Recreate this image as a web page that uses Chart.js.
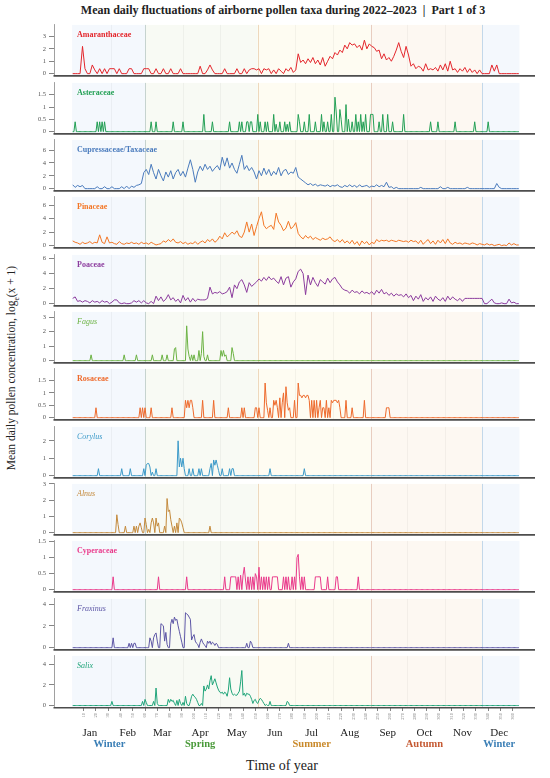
<!DOCTYPE html>
<html>
<head>
<meta charset="utf-8">
<script src="https://cdn.jsdelivr.net/npm/chart.js@4.4.1/dist/chart.umd.min.js"></script>
<style>
  body { margin: 0; background: #fff; }
  #wrap { position: relative; width: 550px; height: 778px; overflow: hidden; font-family: "Liberation Serif", serif; color: #222; }
  #title { position: absolute; top: 3px; left: 0; width: 566px; text-align: center; font-weight: bold; font-size: 12px; white-space: nowrap; }
  #ytitle { position: absolute; left: 13px; top: 368px; transform: translate(-50%, -50%) rotate(-90deg); font-size: 11.5px; white-space: nowrap; }
  #ytitle sub { font-size: 7.5px; }
  #xtitle { position: absolute; left: 282px; top: 766px; transform: translate(-50%, -50%); font-size: 14px; white-space: nowrap; }
</style>
</head>
<body>
<div id="wrap">
  <div id="title">Mean daily fluctuations of airborne pollen taxa during 2022–2023 &nbsp;|&nbsp; Part 1 of 3</div>
  <div id="ytitle">Mean daily pollen concentration, log<sub>e</sub>(x + 1)</div>
  <div id="xtitle">Time of year</div>
</div>
<script>
// ---- data (day of year 1..365) ----
const taxa = ['Amaranthaceae', 'Asteraceae', 'Cupressaceae/Taxaceae', 'Pinaceae', 'Poaceae', 'Fagus',
              'Rosaceae', 'Corylus', 'Alnus', 'Cyperaceae', 'Fraxinus', 'Salix'];
const isGenus = [false, false, false, false, false, true, false, true, true, false, true, true];
const yMax = [3.93, 1.98, 7.6, 7.2, 6.5, 3.36, 1.97, 2.8, 3.0, 1.52, 4.47, 4.82];
const yTicks = [[0, 1, 2, 3], [0, 0.5, 1, 1.5], [0, 2, 4, 6], [0, 2, 4, 6], [0, 2, 4, 6], [0, 1, 2, 3],
                [0, 0.5, 1, 1.5], [0, 1, 2], [0, 1, 2, 3], [0, 0.5, 1, 1.5], [0, 2, 4], [0, 2, 4]];

const dayTicks = [10, 20, 30, 40, 50, 60, 70, 80, 90, 100, 110, 120, 130, 140, 150, 160, 170, 180,
                  190, 200, 210, 220, 230, 240, 250, 260, 270, 280, 290, 300, 310, 320, 330, 340, 350, 360];
const monthNames = ['Jan', 'Feb', 'Mar', 'Apr', 'May', 'Jun', 'Jul', 'Aug', 'Sep', 'Oct', 'Nov', 'Dec'];
const monthStarts = [1, 32, 60, 91, 121, 152, 182, 213, 244, 274, 305, 335];
const monthMid = [15, 46, 74, 105, 135, 166, 196, 227, 258, 288, 319, 349];
const seasonNames = ['Winter', 'Spring', 'Summer', 'Autumn', 'Winter'];
const seasonBounds = [0.5, 60, 152, 244, 335, 365.5];
const seasonMid = [31, 105, 196, 288, 349];

// dense series: one value every second day (days 1, 3, 5, ... 365)
const amaranthaceae = [
  0, 0, 0, 0, 2.2, 0.4, 0, 0, 0.7, 0.3,             // 1-19
  0, 0.4, 0, 0.4, 0, 0.4, 0.4, 0.4, 0, 0.4,         // 21-39
  0, 0, 0, 0.4, 0.4, 0, 0, 0, 0, 0.4,               // 41-59
  0.4, 0.4, 0, 0, 0.4, 0, 0, 0.4, 0, 0,             // 61-79
  0.4, 0, 0, 0, 0.4, 0, 0, 0, 0, 0,                 // 81-99
  0, 0, 0.6, 0, 0, 0.3, 0.7, 0.3, 0, 0,             // 101-119
  0, 0, 0.4, 0, 0, 0, 0, 0.4, 0, 0,                 // 121-139
  0.4, 0, 0.3, 0.4, 0.4, 0.3, 0.4, 0, 0.4, 0.3,     // 141-159
  0.4, 0, 0.3, 0, 0.4, 0.2, 0, 0.4, 0.2, 0.5,       // 161-179
  0.1, 0.3, 1.6, 0.9, 1.1, 0.8, 1.2, 0.9, 1.3, 0.8, // 181-199
  1.1, 0.7, 1.3, 0.6, 1.0, 1.4, 1.2, 1.7, 1.5, 1.9, // 201-219
  1.7, 2.3, 2.0, 2.5, 2.3, 2.4, 2.1, 2.3, 1.9, 2.7, // 221-239
  2.0, 2.4, 2.2, 2.1, 1.8, 1.9, 1.2, 1.6, 1.1, 1.3, // 241-259
  1.0, 1.4, 1.9, 2.5, 1.8, 1.3, 2.2, 1.5, 0.6, 0.8, // 261-279
  0.4, 0.6, 0.5, 0.2, 0.8, 0.3, 0.4, 0.3, 0.5, 0.2, // 281-299
  0.7, 0.3, 0.8, 0.2, 1.0, 0.3, 0.4, 0.1, 0.4, 0.2, // 301-319
  0.5, 0.1, 0.4, 0.1, 0.3, 0, 0.3, 0, 0, 0,         // 321-339
  0, 0.7, 0.2, 0.7, 0, 0, 0, 0, 0, 0,               // 341-359
  0, 0, 0                                           // 361-365
];
const cupressaceae = [
  0.6, 0.2, 0.5, 0.3, 0.5, 0, 0, 0, 0, 0,
  0.3, 0, 0, 0.3, 0, 0, 0.3, 0, 0, 0,
  0.3, 0, 0.4, 0, 0.4, 0.2, 0.5, 0.6, 0.8, 2.5,
  3.0, 2.2, 3.8, 2.5, 1.5, 3.0, 2.0, 1.2, 2.6, 1.8,
  2.8, 1.5, 2.5, 3.0, 2.0, 2.7, 1.8, 3.2, 4.5, 3.0,
  1.0, 2.6, 3.5, 2.8, 3.8, 3.0, 3.5, 2.7, 3.2, 3.6,
  2.9, 4.9, 3.5, 4.8, 3.2, 4.0, 3.0, 2.4, 3.8, 5.2,
  3.0, 3.6, 2.8, 3.3, 2.6, 1.5, 2.8, 2.0, 3.2, 2.2,
  3.0, 2.0, 2.7, 2.2, 3.3, 2.0, 2.8, 3.0, 2.2, 2.6,
  2.4, 3.3, 1.8, 1.5, 1.2, 0.9, 0.6, 0.8, 0.5, 0.7,
  0.4, 0.6, 0.5, 0.4, 0.6, 0.3, 0.5, 0.4, 0.6, 0.3,
  0.2, 0.5, 0.3, 0.6, 0.3, 0.5, 0.2, 0.6, 0.3, 0.4,
  0.5, 0.2, 0.4, 0.3, 0.6, 0.3, 0.5, 0.3, 1.0, 0.2,
  0.3, 0, 0.2, 0, 0, 0, 0, 0, 0, 0,
  0, 0, 0.2, 0, 0, 0, 0, 0, 0, 0,
  0.3, 0, 0, 0.2, 0, 0, 0, 0, 0, 0,
  0, 0.2, 0, 0, 0, 0, 0, 0, 0, 0,
  0, 0, 0, 0.8, 0.2, 0, 0, 0, 0, 0,
  0, 0, 0
];
const pinaceae = [
  0.7, 0.5, 0.4, 0.2, 0.5, 0.3, 0.4, 0.6, 0.3, 0.5,
  0.4, 1.6, 0.5, 0.3, 1.3, 0.4, 0.5, 0.3, 0.2, 0.6,
  0.3, 0.2, 0.4, 0.3, 0.5, 0.3, 0.4, 0.2, 0.5, 0.3,
  0.4, 0.2, 0.5, 0.3, 0.1, 0.2, 0.3, 0.7, 0.5, 0.9,
  0.6, 1.0, 0.5, 0.4, 0.6, 0.3, 0.5, 0.2, 0.4, 0.3,
  0.6, 0.2, 0.5, 0.7, 0.4, 0.9, 0.6, 1.0, 0.5, 0.8,
  1.4, 1.0, 1.9, 1.3, 1.6, 2.0, 1.7, 2.2, 1.4, 1.2,
  2.0, 3.5, 2.0, 3.2, 1.5, 2.8, 4.0, 5.0, 3.0, 2.5,
  2.8, 3.0, 2.4, 4.8, 3.5, 3.0, 2.2, 2.6, 3.6, 2.5,
  2.8, 3.4, 1.8, 1.3, 1.0, 1.5, 1.1, 1.4, 0.9, 1.2,
  1.0, 0.8, 1.1, 0.9, 1.0, 1.3, 0.8, 0.6, 0.9, 0.5,
  0.9, 0.4, 0.7, 0.3, 0.8, 0.2, 0.6, 0.0, 0.7, 0.3,
  0.6, 0.1, 0.5, 0.3, 0.9, 0.6, 0.8, 0.7, 0.8, 0.6,
  0.8, 0.7, 0.6, 0.8, 0.7, 0.6, 0.7, 0.5, 0.8, 0.6,
  0.7, 0.3, 0.8, 0.2, 0.6, 0.9, 0.3, 0.7, 0.2, 0.8,
  0.4, 0.9, 0.3, 1.0, 0.4, 0.2, 0.5, 0.3, 0.4, 0.2,
  0.4, 0.3, 0.2, 0.4, 0.3, 0.1, 0.3, 0.2, 0.1, 0.3,
  0.1, 0.2, 0.0, 0.1, 0.2, 0.0, 0.1, 0.0, 0.4, 0.1,
  0.3, 0.1, 0.1
];
const poaceae = [
  0.7, 0.9, 0.3, 0.4, 0.2, 0.4, 0.3, 0.1, 0.4, 0.2,
  0.3, 0.1, 0.4, 0.2, 0.3, 0.0, 0.2, 0.5, 0.5, 0.1,
  0.0, 0.1, 0.0, 0.0, 0.1, 0.4, 0.2, 0.4, 0.1, 0.4,
  0.1, 0.0, 0.3, 0.0, 1.0, 0.4, 0.9, 0.3, 0.6, 1.2,
  0.5, 0.8, 0.3, 0.6, 0.1, 1.1, 0.4, 0.8, 0.2, 0.7,
  0.3, 0.6, 0.5, 0.5, 0.5, 0.7, 2.2, 1.3, 1.5, 1.4,
  1.6, 1.3, 1.4, 1.6, 2.2, 0.8, 2.5, 2.0, 2.9, 3.2,
  2.5, 1.5, 2.8, 2.3, 2.6, 2.9, 3.3, 3.0, 3.5, 3.1,
  3.6, 3.2, 3.4, 3.0, 2.7, 3.6, 2.5, 3.4, 3.6, 2.2,
  2.9, 3.3, 4.3, 4.6, 4.0, 1.2, 3.8, 2.5, 3.5, 2.8,
  2.3, 3.2, 2.9, 2.6, 3.4, 2.8, 3.3, 3.5, 2.9, 2.5,
  2.0, 1.8, 1.7, 1.4, 1.8, 1.5, 1.6, 1.3, 1.7, 1.4,
  1.5, 1.3, 1.6, 1.2, 1.8, 1.4, 1.9, 1.3, 1.5, 1.1,
  1.4, 1.0, 1.3, 1.1, 1.2, 0.9, 1.3, 0.8, 1.1, 0.4,
  1.0, 0.6, 1.2, 0.3, 0.8, 0.5, 0.9, 0.3, 1.0, 0.6,
  0.4, 0.8, 0.3, 1.0, 0.5, 0.9, 0.6, 0.4, 0.7, 0.3,
  0.7, 0.7, 0.7, 0.7, 0.7, 0.7, 0.7, 0.7, 0.0, 0.0,
  0.3, 0.6, 0.1, 0.0, 0.0, 0.1, 0.0, 0.0, 0.6, 0.1,
  0.2, 0.0, 0.0
];

// sparse series: [day, value], every other day is zero
const asteraceae = [[3,0.4],[21,0.4],[23,0.4],[25,0.4],[27,0.4],[65,0.4],[69,0.4],[83,0.4],[91,0.4],[108,0.7],
  [115,0.4],[129,0.4],[137,0.4],[139,0.4],[143,0.4],[144,0.4],[146,0.4],[147,0.4],[152,0.7],[154,0.4],
  [158,0.4],[160,0.4],[165,0.7],[167,0.3],[170,0.4],[174,0.4],[176,0.3],[178,0.4],[185,0.7],[186,0.4],
  [190,0.4],[194,0.7],[199,0.4],[204,0.7],[206,0.4],[209,0.4],[212,0.7],[215,1.4],[216,0.8],[219,0.9],
  [220,0.5],[224,1.1],[226,0.5],[229,0.4],[232,0.7],[234,0.4],[236,0.7],[238,0.4],[240,0.7],[244,0.7],
  [245,0.7],[246,0.7],[251,0.4],[254,0.7],[258,0.7],[262,0.4],[271,0.7],[293,0.4],[299,0.4],[313,0.4],
  [329,0.4],[340,0.4]];
const fagus = [[16,0.4],[43,0.4],[53,0.4],[66,0.4],[74,0.4],[78,0.4],[84,0.8],[85,0.9],[94,2.4],[95,0.8],
  [96,0.3],[98,0.4],[100,0.4],[104,0.7],[106,0.5],[107,2.0],[108,0.3],[111,0.4],[122,0.7],[123,0.3],
  [124,0.7],[125,0.3],[126,0.4],[131,0.9],[132,0.5]];
const rosaceae = [[20,0.4],[56,0.4],[58,0.4],[60,0.4],[65,0.4],[82,0.4],[93,0.7],[94,0.4],[95,0.7],[96,0.4],
  [97,0.7],[98,0.7],[99,0.4],[107,0.7],[116,0.7],[128,0.4],[139,0.4],[141,0.4],[150,0.4],[151,0.4],
  [153,0.4],[158,1.4],[159,0.6],[160,0.3],[162,0.4],[165,0.7],[166,0.5],[167,0.7],[168,0.4],[170,0.8],
  [172,0.6],[173,1.0],[175,1.25],[176,0.6],[177,0.3],[178,0.4],[182,0.7],[185,1.4],[186,0.9],[187,0.9],
  [188,0.8],[189,0.9],[190,0.9],[191,0.8],[192,0.9],[193,0.9],[194,0.7],[196,0.7],[198,0.7],[200,0.7],
  [202,0.4],[203,0.7],[205,0.4],[206,0.4],[208,0.7],[210,0.4],[212,0.7],[213,0.6],[214,0.7],[215,0.7],
  [216,0.7],[217,0.6],[218,0.7],[219,0.4],[224,0.7],[229,0.4],[239,0.7],[257,0.4],[258,0.4],[259,0.4]];
const corylus = [[22,0.4],[41,0.4],[48,0.4],[59,0.4],[61,0.6],[62,0.7],[63,0.7],[64,0.5],[66,0.2],[69,0.4],
  [87,2.0],[88,0.5],[89,1.0],[90,0.5],[91,1.0],[92,0.4],[96,0.4],[99,0.4],[104,0.4],[106,0.4],
  [113,0.4],[114,0.7],[116,0.9],[117,0.6],[118,0.9],[119,0.6],[120,0.3],[123,0.4],[129,0.4],[131,0.4],
  [132,0.4],[162,0.4],[190,0.4]];
const alnus = [[37,1.1],[38,0.5],[44,0.4],[51,0.4],[53,0.4],[55,0.4],[56,0.6],[57,0.3],[60,0.9],[61,0.5],
  [63,0.2],[65,0.6],[66,0.9],[67,0.6],[69,0.9],[70,0.4],[71,0.6],[76,0.4],[78,2.1],[79,1.3],
  [80,1.4],[81,0.8],[82,0.4],[84,0.4],[86,0.6],[88,0.9],[89,0.8],[90,0.6],[91,0.3],[113,0.4]];
const cyperaceae = [[34,0.4],[71,0.4],[94,0.4],[125,0.4],[130,0.4],[131,0.4],[132,0.4],[133,0.4],[134,0.4],[136,0.4],
  [138,0.45],[140,0.45],[141,0.7],[142,0.3],[144,0.4],[146,0.4],[148,0.4],[150,0.5],[151,0.4],[153,0.7],
  [155,0.4],[157,0.4],[159,0.4],[161,0.4],[164,0.4],[165,0.4],[166,0.4],[167,0.4],[168,0.4],[173,0.4],
  [175,0.4],[177,0.4],[180,0.4],[182,0.4],[184,1.0],[185,1.1],[186,0.4],[188,0.4],[190,0.4],[199,0.4],
  [200,0.4],[201,0.4],[202,0.4],[203,0.4],[209,0.4],[216,0.4],[217,0.4],[234,0.4]];
const fraxinus = [[34,0.9],[47,0.4],[49,0.4],[51,0.4],[52,0.4],[64,0.9],[65,0.6],[67,0.9],[68,1.2],[69,1.35],
  [70,0.6],[73,2.2],[74,2.1],[75,2.0],[76,0.6],[77,1.4],[78,0.3],[81,2.2],[82,2.6],[83,2.2],
  [84,2.8],[85,2.5],[86,2.6],[87,2.0],[88,1.5],[89,1.0],[90,0.5],[93,3.2],[94,3.1],[95,3.0],
  [96,2.8],[97,2.6],[98,0.7],[99,1.0],[100,1.2],[101,0.6],[102,0.4],[103,0.3],[105,0.5],[106,0.8],
  [107,0.5],[108,0.3],[109,0.2],[111,0.6],[112,0.4],[113,0.6],[114,0.3],[115,0.5],[116,0.4],[117,0.2],
  [118,0.4],[119,0.3],[143,0.4],[146,0.6],[147,0.4],[177,0.4]];
const salix = [[33,0.4],[58,0.4],[60,0.6],[61,0.3],[67,0.4],[69,1.7],[70,0.2],[79,0.6],[80,0.3],[81,0.6],
  [82,0.4],[83,0.5],[84,0.2],[86,0.5],[88,0.6],[89,0.2],[91,0.3],[93,0.9],[94,0.2],[97,0.4],
  [98,0.9],[99,1.1],[100,0.9],[101,0.8],[102,0.6],[103,0.3],[106,0.2],[108,1.9],[109,1.4],[110,1.6],
  [111,2.0],[112,1.6],[113,2.4],[114,2.9],[115,2.0],[116,2.3],[117,2.6],[118,2.2],[119,1.8],[120,1.5],
  [121,1.3],[122,1.2],[123,1.3],[124,1.1],[125,1.3],[126,1.2],[127,0.9],[128,1.5],[129,2.7],[130,1.6],
  [131,1.2],[132,1.0],[133,1.1],[134,1.0],[135,1.0],[136,1.2],[137,1.4],[138,2.3],[139,3.4],[140,1.0],
  [141,1.2],[142,0.9],[143,1.2],[144,1.1],[145,1.1],[146,0.9],[147,0.6],[148,0.2],[149,0.5],[150,0.6],
  [151,0.3],[152,0.2],[153,0.5],[154,0.7],[155,0.6],[156,0.4],[157,0.2],[159,0.1],[162,0.4],[176,0.4],
  [177,0.3]];

// ---- styles ----
const lineColors = ['#e4262c', '#23a055', '#4a7bbd', '#f37726', '#8c3c9e', '#6cb344',
                    '#ee6a2c', '#3c9ac9', '#c48a3c', '#ea3a8b', '#5d56a6', '#20a57a'];
const seasonFills = ['#f4f8fd', '#f8faf4', '#fefcf2', '#fdf8f2', '#f4f8fd'];
const seasonLines = ['#c6d3cf', '#eed8bd', '#e8cdc0', '#c3d8ea'];
const seasonText = ['#3b7fb6', '#4a9a3a', '#c9892a', '#c55a33', '#3b7fb6'];
const FONT = '"Liberation Serif", serif';

function buildDense(vals) {
  return vals.map((v, i) => ({x: 1 + 2 * i, y: v}));
}
function buildSparse(pairs) {
  const pts = [];
  for (let d = 1; d <= 365; d++) pts.push({x: d, y: 0});
  pairs.forEach(([d, v]) => { pts[d - 1].y = v; });
  return pts;
}
const series = [buildDense(amaranthaceae), buildSparse(asteraceae), buildDense(cupressaceae), buildDense(pinaceae),
                buildDense(poaceae), buildSparse(fagus), buildSparse(rosaceae), buildSparse(corylus),
                buildSparse(alnus), buildSparse(cyperaceae), buildSparse(fraxinus), buildSparse(salix)];

// season shading, month lines, bottom axis line and taxon label for each panel
const panelDecor = {
  id: 'panelDecor',
  beforeDatasetsDraw(chart, args, o) {
    const {ctx, chartArea: a, scales: {x}} = chart;
    ctx.save();
    for (let s = 0; s < seasonFills.length; s++) {
      const x0 = x.getPixelForValue(seasonBounds[s]);
      const x1 = x.getPixelForValue(seasonBounds[s + 1]);
      ctx.fillStyle = seasonFills[s];
      ctx.fillRect(x0, a.top, x1 - x0, a.bottom - a.top);
    }
    monthStarts.slice(1).forEach(d => {
      const si = seasonBounds.indexOf(d);
      ctx.strokeStyle = si > 0 ? seasonLines[si - 1] : 'rgba(0,0,0,0.04)';
      ctx.lineWidth = 1;
      const px = Math.round(x.getPixelForValue(d)) + 0.5;
      ctx.beginPath();
      ctx.moveTo(px, a.top);
      ctx.lineTo(px, a.bottom);
      ctx.stroke();
    });
    ctx.restore();
  },
  afterDraw(chart, args, o) {
    const {ctx, chartArea: a} = chart;
    ctx.save();
    ctx.strokeStyle = '#4d4d4d';
    ctx.lineWidth = 1.6;
    ctx.beginPath();
    ctx.moveTo(a.left - 0.5, a.bottom + 0.8);
    ctx.lineTo(a.right, a.bottom + 0.8);
    ctx.stroke();
    ctx.font = (o.italic ? 'italic ' : 'bold ') + '8px ' + FONT;
    ctx.fillStyle = o.color;
    ctx.textBaseline = 'alphabetic';
    ctx.fillText(o.label, 77, a.top + 12);
    ctx.restore();
  }
};

// month and season names under the last panel
const timeAxis = {
  id: 'timeAxis',
  afterDraw(chart) {
    const {ctx, chartArea: a, scales: {x}} = chart;
    ctx.save();
    ctx.textAlign = 'center';
    ctx.textBaseline = 'middle';
    ctx.fillStyle = '#222';
    ctx.font = '11px ' + FONT;
    monthNames.forEach((m, k) => ctx.fillText(m, x.getPixelForValue(monthMid[k]), a.bottom + 26));
    ctx.font = 'bold 10.5px ' + FONT;
    seasonNames.forEach((s, k) => {
      ctx.fillStyle = seasonText[k];
      ctx.fillText(s, x.getPixelForValue(seasonMid[k]), a.bottom + 37.5);
    });
    ctx.restore();
  }
};

const wrap = document.getElementById('wrap');
const X_MIN = -14.26, X_MAX = 378.2;

taxa.forEach((name, i) => {
  const last = i === taxa.length - 1;
  const top = Math.round(24.3 + 57.35 * i) - 6;
  const h = last ? 778 - top : 64;
  const cv = document.createElement('canvas');
  cv.width = 550;
  cv.height = h;
  cv.style.cssText = 'position:absolute;left:0;top:' + top + 'px;width:550px;height:' + h + 'px';
  wrap.appendChild(cv);

  new Chart(cv, {
    type: 'line',
    data: {
      datasets: [{
        data: series[i],
        borderColor: lineColors[i],
        borderWidth: 1,
        pointRadius: 0,
        tension: 0,
        fill: false
      }]
    },
    options: {
      responsive: false,
      animation: false,
      events: [],
      layout: { padding: { top: 6, bottom: last ? h - 76 : 6, left: 0, right: 15 } },
      plugins: {
        legend: { display: false },
        tooltip: { enabled: false },
        panelDecor: { label: name, italic: isGenus[i], color: lineColors[i] }
      },
      scales: {
        x: {
          type: 'linear',
          min: X_MIN,
          max: X_MAX,
          display: last,
          afterBuildTicks: s => { s.ticks = dayTicks.map(v => ({value: v})); },
          afterFit: s => { s.height = last ? 18 : 0; },
          border: { display: false },
          grid: { drawOnChartArea: false, drawTicks: true, tickLength: 4, color: '#666', lineWidth: 0.8 },
          ticks: {
            autoSkip: false, maxRotation: 90, minRotation: 90, padding: 2,
            color: '#777', font: { size: 4.5, family: FONT },
            callback: v => v
          }
        },
        y: {
          type: 'linear',
          min: -yMax[i] * 1.5 / 50.5,
          max: yMax[i],
          afterBuildTicks: s => { s.ticks = yTicks[i].map(v => ({value: v})); },
          afterFit: s => { s.width = 54; },
          border: { display: true, color: '#888', width: 0.8 },
          grid: { drawOnChartArea: false, drawTicks: true, tickLength: 5, color: '#666', lineWidth: 0.8 },
          ticks: { color: '#555', padding: 3, font: { size: 6.5, family: FONT }, callback: v => String(v) }
        }
      }
    },
    plugins: last ? [panelDecor, timeAxis] : [panelDecor]
  });
});
</script>
</body>
</html>
